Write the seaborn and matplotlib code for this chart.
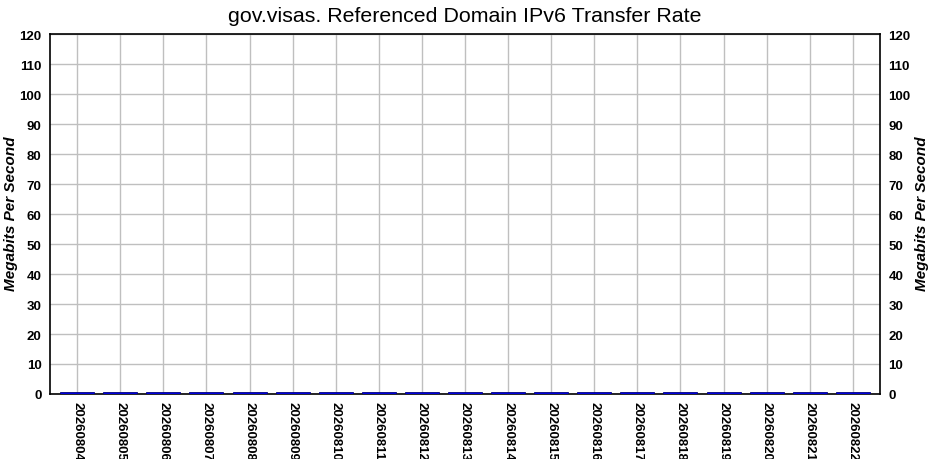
import pandas as pd
import numpy as np
import matplotlib
matplotlib.use('Agg')
import matplotlib.pyplot as plt
import seaborn as sns

# dates and transfer rates (Mbps) - all tiny
dates = ['20260804', '20260805', '20260806', '20260807', '20260808',
         '20260809', '20260810', '20260811', '20260812', '20260813',
         '20260814', '20260815', '20260816', '20260817', '20260818',
         '20260819', '20260820', '20260821', '20260822']
rates = [0.8, 0.8, 0.8, 0.8, 0.8, 0.8, 0.8, 0.8, 0.8, 0.8,
         0.8, 0.8, 0.8, 0.8, 0.8, 0.8, 0.8, 0.8, 0.8]
yTicks = list(range(0, 121, 10))

df = pd.DataFrame({'date': dates, 'rate': rates})

sns.set_style('white')
plt.rcParams['font.family'] = ['Liberation Sans', 'DejaVu Sans']
plt.rcParams['text.color'] = 'black'
plt.rcParams['xtick.color'] = 'black'
plt.rcParams['ytick.color'] = 'black'

fig = plt.figure(figsize=(9.3, 4.6), dpi=100)
ax = fig.add_axes([50 / 930, 65 / 460, 830 / 930, 360 / 460])

sns.barplot(data=df, x='date', y='rate', color='#0000dd', width=0.79,
            edgecolor='#000080', linewidth=0.6, saturation=1, ax=ax, zorder=3)

ax.set_xlim(-0.63, len(dates) - 0.37)
ax.set_ylim(0, 120)
ax.set_yticks(yTicks)
ax.grid(True, color='#bfbfbf', linewidth=1, zorder=0)
ax.set_axisbelow(True)
for s in ax.spines.values():
    s.set_color('black')
    s.set_linewidth(1.2)

ax.tick_params(axis='both', length=0, labelsize=9.5, labelcolor='black')
ax.tick_params(axis='y', left=False, right=False, labelleft=True, labelright=True, pad=6)
ax.tick_params(axis='x', pad=5)
ax.set_xticks(range(len(dates)))
ax.set_xticklabels(dates, rotation=270, fontweight='bold')
for t in ax.yaxis.get_major_ticks():
    t.label1.set_fontweight('bold')
    t.label2.set_fontweight('bold')
ax.set_xlabel('')
ax.set_ylabel('')

# y axis titles on both sides
fig.text(11 / 930, 1 - 214 / 460, 'Megabits Per Second', rotation=90, ha='center', va='center',
         fontsize=11, fontweight='bold', fontstyle='italic')
fig.text(922 / 930, 1 - 214 / 460, 'Megabits Per Second', rotation=90, ha='center', va='center',
         fontsize=11, fontweight='bold', fontstyle='italic')

fig.suptitle('gov.visas. Referenced Domain IPv6 Transfer Rate', fontsize=15.4, y=1 - 16 / 460, va='center')

fig.savefig('out.png', dpi=100)
